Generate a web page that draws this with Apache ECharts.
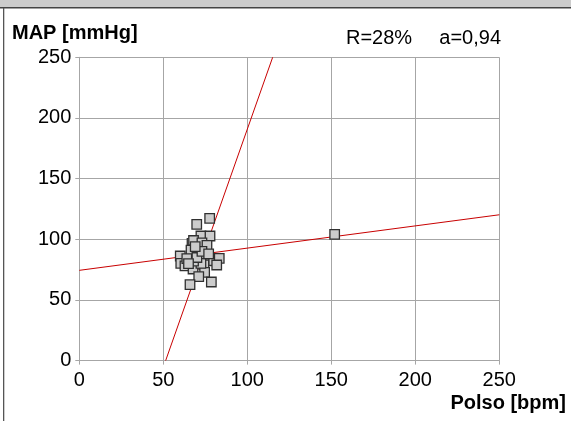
<!DOCTYPE html>
<html>
<head>
<meta charset="utf-8">
<script src="https://cdn.jsdelivr.net/npm/echarts@6/dist/echarts.min.js"></script>
<style>
html,body{margin:0;padding:0;background:#fff;}
#c{width:571px;height:421px;}
</style>
</head>
<body>
<div id="c"></div>
<script>
// Data
var xTicks = [0, 50, 100, 150, 200, 250];
var yTicks = [0, 50, 100, 150, 200, 250];
var pulse = [77.6, 69.9, 72.4, 77.8, 67.1, 68.0, 75.6, 73.0, 60.1, 67.1, 66.5, 71.7, 60.4, 62.9, 67.7, 74.2, 80.0, 83.3, 81.8, 74.6, 71.1, 78.6, 65.9, 72.4, 68.0, 64.0, 76.0, 70.0, 73.0, 77.0, 65.0, 69.0, 152.0];
var map   = [117.3, 112.3, 102.7, 102.7, 96.7, 99.0, 93.9, 97.0, 86.2, 88.4, 91.0, 87.0, 80.2, 78.0, 75.5, 79.0, 82.3, 84.3, 78.8, 72.8, 69.2, 64.8, 62.6, 80.2, 82.0, 84.0, 95.0, 85.0, 90.0, 88.0, 80.0, 94.0, 104.0];
var fitYonX = [[0, 74.4], [250, 120.2]];
var fitXonY = [[51.4, 0], [115.1, 250]];
var yName = 'MAP [mmHg]';
var xName = 'Polso [bpm]';
var statR = 'R=28%';
var statA = 'a=0,94';

var points = pulse.map(function (p, i) { return [p, map[i]]; });
var FONT = '"Liberation Sans", Arial, sans-serif';
var gridCol = '#a6a6a6';

var chart = echarts.init(document.getElementById('c'), null, {renderer: 'canvas'});
chart.setOption({
  animation: false,
  backgroundColor: '#ffffff',
  grid: {left: 79.3, right: 71.7, top: 57.3, bottom: 60.4, containLabel: false},
  xAxis: {
    type: 'value', min: xTicks[0], max: xTicks[xTicks.length - 1], interval: xTicks[1] - xTicks[0],
    axisLine: {show: true, onZero: false, lineStyle: {color: gridCol, width: 1}},
    axisTick: {show: true, inside: false, length: 4, lineStyle: {color: gridCol}},
    splitLine: {show: true, lineStyle: {color: gridCol, width: 1}},
    axisLabel: {color: '#000', fontFamily: FONT, fontSize: 20, margin: 10}
  },
  yAxis: {
    type: 'value', min: yTicks[0], max: yTicks[yTicks.length - 1], interval: yTicks[1] - yTicks[0],
    axisLine: {show: true, onZero: false, lineStyle: {color: gridCol, width: 1}},
    axisTick: {show: true, inside: false, length: 4, lineStyle: {color: gridCol}},
    splitLine: {show: true, lineStyle: {color: gridCol, width: 1}},
    axisLabel: {color: '#000', fontFamily: FONT, fontSize: 20, margin: 8}
  },
  series: [
    {
      type: 'line', data: fitYonX, symbol: 'none', silent: true, z: 3,
      lineStyle: {color: '#c80000', width: 1}
    },
    {
      type: 'line', data: fitXonY, symbol: 'none', silent: true, z: 3,
      lineStyle: {color: '#c80000', width: 1}
    },
    {
      type: 'scatter', data: points, symbol: 'rect', symbolSize: 9.5, z: 4,
      itemStyle: {color: '#cccccc', borderColor: '#303030', borderWidth: 1.3, opacity: 1}
    }
  ],
  graphic: [
    {type: 'rect', left: 0, top: 0, shape: {width: 571, height: 7}, style: {fill: '#cccccc'}},
    {type: 'rect', left: 0, top: 7, shape: {width: 571, height: 1.5}, style: {fill: '#444444'}},
    {type: 'rect', left: 3, top: 8, shape: {width: 1.3, height: 413}, style: {fill: '#555555'}},
    {type: 'text', left: 12, top: 23, style: {text: yName, font: 'bold 20px ' + FONT, fill: '#000'}},
    {type: 'text', left: 346, top: 28, style: {text: statR, font: '20px ' + FONT, fill: '#000'}},
    {type: 'text', right: 70, top: 28, style: {text: statA, font: '20px ' + FONT, fill: '#000'}},
    {type: 'text', right: 5, top: 393, style: {text: xName, font: 'bold 20px ' + FONT, fill: '#000'}}
  ]
});
</script>
</body>
</html>
